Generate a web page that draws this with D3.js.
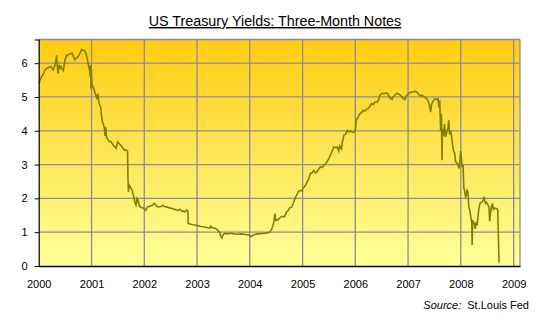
<!DOCTYPE html>
<html>
<head>
<meta charset="utf-8">
<script src="https://cdn.jsdelivr.net/npm/d3@7"></script>
<style>
  html, body { margin: 0; padding: 0; background: #fff; }
  svg { display: block; }
  text { font-family: "Liberation Sans", Arial, sans-serif; fill: #000; }
</style>
</head>
<body>
<svg id="chart" width="545" height="323"></svg>
<script>
const title = "US Treasury Yields: Three-Month Notes";
const yearTicks = ["2000","2001","2002","2003","2004","2005","2006","2007","2008","2009"];
const yTicks = [0, 1, 2, 3, 4, 5, 6];

const dates = [
"2000-01-03","2000-01-10","2000-01-24","2000-02-06","2000-02-13","2000-02-27","2000-03-12","2000-03-26","2000-04-02","2000-04-11",
"2000-04-23","2000-04-30","2000-05-04","2000-05-08","2000-05-14","2000-05-21","2000-05-27","2000-06-03","2000-06-14","2000-06-19",
"2000-07-01","2000-07-13","2000-07-22","2000-08-05","2000-08-19","2000-08-25","2000-09-08","2000-09-19","2000-10-01","2000-10-13",
"2000-10-25","2000-11-03","2000-11-16","2000-11-28","2000-12-09","2000-12-15","2000-12-19","2000-12-22","2000-12-26","2000-12-28",
"2000-12-30","2001-01-03","2001-01-12","2001-01-26","2001-02-06","2001-02-13","2001-02-22","2001-03-05","2001-03-12","2001-03-18",
"2001-03-23","2001-04-01","2001-04-04","2001-04-09","2001-04-15","2001-04-18","2001-04-29","2001-05-16","2001-05-30","2001-06-13",
"2001-06-20","2001-06-30","2001-07-11","2001-07-24","2001-08-04","2001-08-14","2001-08-21","2001-08-31","2001-09-07","2001-09-10",
"2001-09-13","2001-09-18","2001-10-01","2001-10-08","2001-10-17","2001-10-23","2001-10-29","2001-11-05","2001-11-12","2001-11-19",
"2001-11-26","2001-12-03","2001-12-13","2001-12-24","2002-01-11","2002-01-23","2002-02-04","2002-02-15","2002-02-27","2002-03-10",
"2002-03-22","2002-04-05","2002-04-26","2002-05-10","2002-05-20","2002-06-03","2002-06-24","2002-07-15","2002-08-11","2002-08-20",
"2002-09-04","2002-09-18","2002-09-27","2002-10-09","2002-10-21","2002-10-30","2002-11-01","2002-11-13","2002-12-04","2003-01-06",
"2003-01-27","2003-02-17","2003-03-17","2003-03-31","2003-04-07","2003-04-18","2003-04-28","2003-05-12","2003-05-24","2003-06-06",
"2003-06-16","2003-06-23","2003-06-30","2003-07-14","2003-07-28","2003-08-25","2003-09-15","2003-10-06","2003-11-03","2003-12-01",
"2003-12-22","2004-01-05","2004-01-12","2004-01-26","2004-02-09","2004-03-01","2004-03-22","2004-04-12","2004-05-03","2004-05-17",
"2004-05-31","2004-06-10","2004-06-17","2004-06-23","2004-06-30","2004-07-16","2004-07-25","2004-08-08","2004-08-29","2004-09-12",
"2004-09-24","2004-10-03","2004-10-17","2004-10-28","2004-11-09","2004-11-21","2004-12-03","2004-12-15","2004-12-29","2005-01-03",
"2005-01-13","2005-01-23","2005-02-01","2005-02-10","2005-02-24","2005-03-06","2005-03-19","2005-03-31","2005-04-11","2005-04-20",
"2005-05-04","2005-05-18","2005-05-29","2005-06-09","2005-06-19","2005-07-02","2005-07-14","2005-07-24","2005-08-06","2005-08-18",
"2005-08-28","2005-09-08","2005-09-15","2005-09-26","2005-10-05","2005-10-14","2005-10-26","2005-11-07","2005-11-20","2005-11-30",
"2005-12-12","2005-12-24","2006-01-01","2006-01-08","2006-01-20","2006-01-31","2006-02-10","2006-02-23","2006-03-07","2006-03-17",
"2006-03-30","2006-04-11","2006-04-23","2006-05-06","2006-05-16","2006-05-30","2006-06-10","2006-06-20","2006-07-04","2006-07-18",
"2006-08-01","2006-08-15","2006-08-22","2006-09-01","2006-09-12","2006-09-19","2006-10-02","2006-10-16","2006-10-30","2006-11-10",
"2006-11-20","2006-11-29","2006-12-11","2006-12-18","2007-01-04","2007-01-18","2007-02-04","2007-02-18","2007-03-04","2007-03-15",
"2007-03-29","2007-04-08","2007-04-18","2007-04-29","2007-05-14","2007-05-23","2007-05-30","2007-06-06","2007-06-13","2007-06-20",
"2007-07-01","2007-07-11","2007-07-21","2007-07-28","2007-08-03","2007-08-08","2007-08-15","2007-08-20","2007-08-24","2007-08-27",
"2007-09-03","2007-09-10","2007-09-17","2007-09-29","2007-10-05","2007-10-10","2007-10-15","2007-10-22","2007-10-29","2007-11-05",
"2007-11-12","2007-11-19","2007-11-26","2007-12-03","2007-12-10","2007-12-19","2007-12-26","2007-12-31","2008-01-05","2008-01-11",
"2008-01-17","2008-01-22","2008-01-27","2008-02-03","2008-02-08","2008-02-13","2008-02-19","2008-02-26","2008-03-03","2008-03-10",
"2008-03-17","2008-03-20","2008-03-23","2008-04-03","2008-04-10","2008-04-16","2008-04-23","2008-04-29","2008-05-06","2008-05-13",
"2008-05-21","2008-05-30","2008-06-04","2008-06-10","2008-06-16","2008-06-21","2008-06-28","2008-07-05","2008-07-14","2008-07-19",
"2008-07-25","2008-07-31","2008-08-07","2008-08-14","2008-08-19","2008-08-26","2008-09-06","2008-09-13","2008-09-18","2008-09-22"
];

const yields = [
5.40,5.50,5.62,5.72,5.79,5.85,5.88,5.90,5.84,5.80,
5.95,6.10,6.23,5.95,5.69,5.95,5.85,5.90,5.82,5.78,
6.10,6.23,6.25,6.28,6.30,6.22,6.10,6.15,6.20,6.30,
6.40,6.38,6.36,6.23,5.98,5.85,5.88,5.60,5.92,5.25,
5.80,5.39,5.30,5.10,4.98,5.09,4.80,4.70,4.40,4.25,
4.20,4.05,3.85,4.10,3.80,3.78,3.70,3.67,3.58,3.52,
3.48,3.67,3.62,3.57,3.50,3.45,3.42,3.43,3.40,2.60,
2.19,2.40,2.30,2.25,2.10,2.00,1.86,1.80,2.00,1.95,
1.80,1.75,1.73,1.72,1.65,1.75,1.76,1.78,1.80,1.85,
1.80,1.75,1.76,1.80,1.76,1.75,1.72,1.70,1.66,1.64,
1.68,1.62,1.63,1.60,1.66,1.62,1.26,1.24,1.22,1.20,
1.17,1.16,1.13,1.12,1.18,1.13,1.13,1.10,1.06,1.00,
0.87,0.83,0.92,0.97,0.95,0.97,0.95,0.94,0.95,0.93,
0.92,0.90,0.87,0.92,0.94,0.95,0.96,0.97,0.98,1.00,
1.08,1.20,1.32,1.55,1.35,1.37,1.42,1.46,1.46,1.60,
1.65,1.72,1.74,1.85,2.00,2.10,2.20,2.24,2.22,2.30,
2.34,2.40,2.49,2.55,2.74,2.75,2.83,2.75,2.79,2.85,
2.93,2.92,2.98,3.03,3.08,3.18,3.30,3.40,3.52,3.50,
3.52,3.40,3.55,3.47,3.70,3.87,3.90,4.01,3.96,4.00,
3.95,3.96,4.01,4.31,4.40,4.50,4.52,4.60,4.58,4.63,
4.65,4.72,4.80,4.78,4.85,4.84,4.90,5.05,5.11,5.10,
5.12,5.09,5.02,4.96,4.93,5.00,5.05,5.11,5.08,5.05,
5.00,4.95,4.93,5.02,5.10,5.14,5.15,5.17,5.14,5.08,
5.03,5.05,5.02,4.98,4.93,4.85,4.75,4.55,4.78,4.85,
4.93,4.95,4.92,4.95,4.68,4.90,4.00,4.50,3.13,4.05,
3.85,4.20,3.82,4.00,4.10,4.31,3.90,4.00,3.85,3.60,
3.40,3.35,3.10,3.05,3.03,2.88,3.10,3.40,3.20,2.93,
3.00,2.30,2.24,2.05,2.10,2.24,2.20,1.75,1.65,1.46,
1.30,0.62,1.35,1.25,1.10,1.30,1.20,1.46,1.70,1.85,
1.88,1.90,1.95,2.05,1.90,1.85,1.88,1.82,1.75,1.33,
1.55,1.75,1.85,1.65,1.72,1.70,1.70,1.65,0.77,0.10
];

const parse = d3.timeParse("%Y-%m-%d");
const data = dates.map((d, i) => ({ date: parse(d), value: yields[i] }));

const svg = d3.select("#chart");
const L = 38.7, R = 520, T = 39.5, B = 266;

const x = d3.scaleTime()
  .domain([new Date(2000, 0, 1), new Date(2009, 1, 14)])
  .range([L, R]);
const y = d3.scaleLinear().domain([0, 6.7]).range([B, T]);

const defs = svg.append("defs");
const grad = defs.append("linearGradient").attr("id", "bg")
  .attr("x1", 0).attr("y1", 0).attr("x2", 0).attr("y2", 1);
grad.append("stop").attr("offset", "0%").attr("stop-color", "#FFCC11");
grad.append("stop").attr("offset", "100%").attr("stop-color", "#FFFF99");

svg.append("rect").attr("x", L).attr("y", T).attr("width", R - L).attr("height", B - T)
  .attr("fill", "url(#bg)");

const yearDates = yearTicks.map(s => new Date(+s, 0, 1));

// gridlines
const grid = svg.append("g").attr("stroke", "#8c8c98").attr("stroke-width", 1.3);
grid.selectAll("line.v").data(yearDates.slice(1)).join("line")
  .attr("x1", d => x(d)).attr("x2", d => x(d)).attr("y1", T).attr("y2", B);
grid.selectAll("line.h").data(yTicks.slice(1)).join("line")
  .attr("x1", L).attr("x2", R).attr("y1", d => y(d)).attr("y2", d => y(d));
// top and right border
grid.append("line").attr("x1", L).attr("x2", R).attr("y1", T).attr("y2", T);
grid.append("line").attr("x1", R).attr("x2", R).attr("y1", T).attr("y2", B);

// line
const line = d3.line().x(d => x(d.date)).y(d => y(d.value));
svg.append("path").datum(data)
  .attr("fill", "none").attr("stroke", "#808000").attr("stroke-width", 1.6)
  .attr("stroke-linejoin", "miter").attr("d", line);

// y axis
const yAxis = d3.axisLeft(y).tickValues(yTicks).tickSize(4).tickPadding(7).tickFormat(d3.format("d"));
const gy = svg.append("g").attr("transform", `translate(${L},0)`).call(yAxis);
gy.select(".domain").attr("stroke", "#000").attr("stroke-width", 1.2);
gy.selectAll(".tick line").attr("stroke", "#000");
gy.selectAll("text").style("font-size", "11px").style("font-family", "Liberation Sans, Arial, sans-serif");

// x axis
const xAxis = d3.axisBottom(x).tickValues(yearDates).tickSize(0).tickPadding(14)
  .tickFormat((d, i) => yearTicks[i]);
const gx = svg.append("g").attr("transform", `translate(0,${B})`).call(xAxis);
gx.select(".domain").attr("stroke", "#000").attr("stroke-width", 1.5);
gx.selectAll("text").style("font-size", "11px").style("font-family", "Liberation Sans, Arial, sans-serif");

// title
svg.append("text").attr("x", 275).attr("y", 26).attr("text-anchor", "middle")
  .style("font-size", "14.3px").style("text-decoration", "underline")
  .text(title);

// source
const src = svg.append("text").attr("x", 529).attr("y", 309).attr("text-anchor", "end")
  .style("font-size", "11px");
src.append("tspan").style("font-style", "italic").text("Source:");
src.append("tspan").attr("dx", 6).text("St.Louis Fed");
</script>
</body>
</html>
